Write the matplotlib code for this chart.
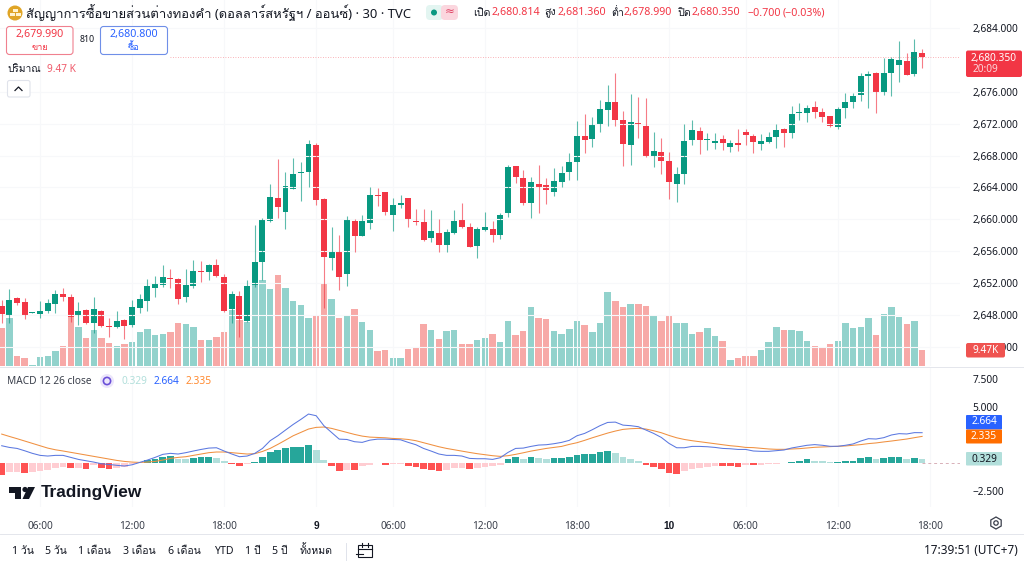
import numpy as np
import matplotlib
matplotlib.use("Agg")
import matplotlib.pyplot as plt
from matplotlib.patches import Rectangle, FancyBboxPatch, Circle, Polygon, RegularPolygon

# Loma supplies the Thai glyphs, Noto Sans the latin ones
plt.rcParams['font.family'] = ['Noto Sans', 'Loma', 'DejaVu Sans']

opens = [2649.12, 2647.91, 2650.16, 2649.62, 2648.30, 2648.07, 2648.49, 2649.41, 2650.67, 2650.29,
         2647.86, 2648.62, 2647.03, 2648.53, 2646.65, 2646.44, 2647.36, 2646.69, 2648.83, 2649.75,
         2651.38, 2651.80, 2652.63, 2652.55, 2650.25, 2651.63, 2653.51, 2653.43, 2654.22, 2652.72,
         2648.74, 2650.37, 2647.28, 2651.71, 2654.64, 2659.82, 2662.67, 2660.91, 2663.84, 2665.76,
         2665.93, 2669.32, 2662.50, 2655.14, 2655.94, 2653.09, 2659.78, 2657.90, 2659.53, 2663.05,
         2663.38, 2660.54, 2661.75, 2662.63, 2659.78, 2659.70, 2657.61, 2658.24, 2656.77, 2658.32,
         2659.91, 2659.07, 2656.65, 2658.61, 2658.82, 2658.07, 2660.75, 2666.64, 2665.14, 2662.00,
         2664.38, 2664.26, 2663.42, 2664.63, 2665.93, 2667.22, 2670.45, 2670.07, 2671.87, 2673.71,
         2674.75, 2672.45, 2669.27, 2672.12, 2671.70, 2667.85, 2668.48, 2667.35, 2664.38, 2665.72,
         2669.95, 2671.04, 2669.95, 2669.57, 2670.03, 2669.07, 2669.53, 2670.91, 2670.49, 2669.49,
         2669.70, 2670.28, 2671.29, 2670.87, 2673.29, 2673.38, 2674.05, 2673.42, 2672.92, 2671.54,
         2673.96, 2674.76, 2675.55, 2678.02, 2678.40, 2676.01, 2678.31, 2679.40, 2679.82, 2678.27,
         2680.814]
highs = [2649.87, 2651.21, 2650.20, 2650.08, 2648.40, 2649.79, 2649.96, 2651.13, 2651.34, 2650.62,
         2649.62, 2648.70, 2650.29, 2648.62, 2647.57, 2648.49, 2647.49, 2649.87, 2650.62, 2652.51,
         2652.88, 2654.26, 2653.72, 2652.67, 2653.72, 2654.89, 2654.76, 2654.35, 2654.97, 2653.13,
         2651.00, 2651.00, 2652.38, 2659.28, 2660.12, 2664.38, 2667.52, 2665.93, 2667.69, 2667.23,
         2669.95, 2669.53, 2662.71, 2659.07, 2658.03, 2660.41, 2659.99, 2660.54, 2664.00, 2663.88,
         2663.40, 2662.63, 2663.09, 2662.71, 2661.25, 2661.29, 2661.16, 2659.99, 2658.74, 2661.16,
         2662.04, 2659.57, 2659.07, 2660.87, 2659.82, 2660.83, 2666.81, 2666.73, 2666.18, 2665.26,
         2666.81, 2665.22, 2666.39, 2666.68, 2668.35, 2672.37, 2673.16, 2672.87, 2674.96, 2676.84,
         2678.39, 2673.58, 2675.67, 2675.38, 2675.21, 2670.95, 2670.15, 2668.40, 2666.60, 2671.95,
         2672.46, 2671.62, 2670.87, 2670.79, 2670.58, 2669.95, 2671.33, 2671.29, 2670.70, 2670.70,
         2671.00, 2671.91, 2671.50, 2674.22, 2674.63, 2674.34, 2674.88, 2673.92, 2673.00, 2674.05,
         2675.89, 2675.89, 2678.40, 2678.65, 2678.52, 2680.24, 2680.32, 2682.41, 2680.82, 2682.62,
         2681.36]
lows = [2646.94, 2646.94, 2649.24, 2647.45, 2648.25, 2647.57, 2648.28, 2648.28, 2649.79, 2647.15,
        2646.74, 2646.82, 2645.69, 2646.44, 2645.19, 2646.32, 2644.94, 2646.44, 2648.20, 2648.53,
        2650.29, 2651.54, 2651.42, 2649.37, 2649.66, 2651.34, 2652.13, 2652.38, 2652.72, 2648.41,
        2646.94, 2645.27, 2647.15, 2651.54, 2652.38, 2659.70, 2660.20, 2658.74, 2663.76, 2662.33,
        2664.09, 2661.79, 2648.91, 2653.64, 2651.13, 2651.67, 2655.94, 2657.85, 2658.74, 2661.66,
        2660.58, 2658.57, 2661.46, 2659.07, 2659.32, 2657.32, 2657.11, 2655.85, 2655.94, 2658.20,
        2658.95, 2656.48, 2655.10, 2658.53, 2657.11, 2657.48, 2660.24, 2664.51, 2661.83, 2660.16,
        2660.83, 2661.92, 2662.92, 2664.09, 2664.93, 2664.93, 2668.27, 2669.11, 2670.99, 2671.70,
        2671.70, 2666.68, 2666.81, 2670.15, 2667.85, 2666.51, 2665.68, 2662.50, 2662.21, 2664.42,
        2669.32, 2668.15, 2668.69, 2668.82, 2668.69, 2668.49, 2668.61, 2669.32, 2668.28, 2668.69,
        2669.53, 2668.90, 2669.11, 2670.16, 2672.46, 2672.25, 2672.67, 2672.25, 2671.62, 2671.33,
        2672.75, 2674.00, 2674.88, 2674.00, 2673.30, 2675.60, 2675.51, 2677.27, 2678.06, 2678.02,
        2678.99]
closes = [2648.07, 2649.87, 2649.50, 2647.99, 2648.35, 2648.53, 2649.45, 2650.67, 2650.29, 2647.78,
          2648.45, 2647.03, 2648.78, 2646.61, 2646.44, 2647.28, 2646.61, 2649.04, 2649.96, 2651.59,
          2651.88, 2652.80, 2652.51, 2650.00, 2651.75, 2653.55, 2653.43, 2654.31, 2652.88, 2648.53,
          2650.67, 2647.45, 2651.67, 2654.64, 2659.87, 2662.75, 2661.50, 2664.17, 2665.68, 2665.97,
          2669.40, 2662.42, 2655.31, 2655.85, 2652.80, 2659.87, 2657.90, 2659.78, 2663.05, 2662.96,
          2660.91, 2661.79, 2662.08, 2659.87, 2659.70, 2657.40, 2658.49, 2656.81, 2658.40, 2659.74,
          2659.03, 2656.56, 2658.82, 2658.99, 2658.07, 2660.54, 2666.52, 2665.26, 2662.00, 2664.72,
          2664.05, 2663.63, 2664.84, 2665.76, 2667.22, 2670.45, 2669.99, 2671.83, 2673.79, 2674.75,
          2672.45, 2669.44, 2672.20, 2671.99, 2667.94, 2668.52, 2667.31, 2664.72, 2665.64, 2669.82,
          2671.20, 2669.95, 2670.07, 2669.87, 2669.53, 2669.53, 2669.36, 2670.62, 2669.70, 2669.87,
          2670.37, 2671.25, 2670.79, 2673.25, 2673.42, 2674.00, 2673.42, 2672.88, 2671.71, 2673.84,
          2674.67, 2675.43, 2677.98, 2678.19, 2675.80, 2678.31, 2680.07, 2679.94, 2678.15, 2680.95,
          2680.35]
# volume in thousands
volumes = [22.0, 27.4, 5.7, 4.6, 0.6, 5.0, 5.7, 8.4, 11.5, 28.0,
           22.6, 16.1, 20.7, 16.1, 13.0, 11.5, 12.6, 13.6, 19.3, 21.3,
           18.0, 18.4, 19.3, 24.7, 23.9, 22.4, 14.9, 14.9, 16.5, 19.3,
           32.2, 26.4, 25.5, 46.4, 49.4, 44.3, 52.5, 44.8, 37.4, 34.9,
           27.6, 28.9, 47.7, 38.5, 27.6, 28.9, 32.6, 25.3, 20.7, 8.6,
           9.2, 4.4, 4.4, 9.8, 10.7, 24.3, 20.5, 15.5, 20.1, 20.9,
           12.6, 12.5, 14.9, 16.1, 18.2, 13.8, 25.9, 17.8, 20.1, 34.1,
           27.4, 27.0, 20.1, 18.2, 21.3, 25.9, 23.8, 19.3, 24.7, 42.5,
           37.2, 33.7, 35.4, 35.6, 34.7, 29.5, 25.7, 28.9, 24.5, 24.9,
           18.6, 19.5, 22.0, 17.2, 14.4, 3.6, 4.6, 5.7, 5.6, 9.0,
           13.6, 22.6, 20.5, 20.9, 20.3, 14.4, 11.3, 10.5, 12.6, 14.4,
           24.9, 22.0, 22.6, 27.6, 17.8, 29.9, 33.9, 28.4, 24.1, 25.9,
           9.47]
macd_line = [1.50, 1.35, 1.26, 1.05, 0.82, 0.64, 0.58, 0.64, 0.64, 0.46,
             0.28, 0.16, 0.04, -0.11, -0.17, -0.25, -0.31, -0.20, 0.01, 0.22,
             0.46, 0.73, 0.82, 0.76, 0.88, 1.03, 1.17, 1.29, 1.32, 1.03,
             0.76, 0.52, 0.58, 0.82, 1.26, 1.95, 2.39, 2.90, 3.40, 3.85,
             4.33, 4.18, 3.29, 2.69, 2.09, 2.06, 1.86, 1.80, 2.00, 2.09,
             2.09, 2.06, 2.03, 1.80, 1.59, 1.26, 1.02, 0.76, 0.64, 0.64,
             0.58, 0.37, 0.34, 0.34, 0.28, 0.43, 0.90, 1.26, 1.29, 1.44,
             1.56, 1.59, 1.68, 1.80, 1.98, 2.39, 2.60, 2.93, 3.29, 3.58,
             3.61, 3.34, 3.29, 3.20, 2.90, 2.60, 2.24, 1.71, 1.32, 1.32,
             1.44, 1.44, 1.41, 1.35, 1.26, 1.23, 1.17, 1.17, 1.03, 1.00,
             1.00, 1.06, 1.12, 1.30, 1.42, 1.54, 1.60, 1.54, 1.45, 1.45,
             1.54, 1.66, 1.92, 2.13, 2.10, 2.22, 2.46, 2.58, 2.55, 2.67,
             2.664]
signal_line = [2.54, 2.33, 2.13, 1.92, 1.71, 1.50, 1.29, 1.14, 1.03, 0.91,
               0.79, 0.67, 0.55, 0.43, 0.31, 0.19, 0.10, 0.04, 0.01, 0.04,
               0.10, 0.22, 0.37, 0.46, 0.52, 0.64, 0.76, 0.88, 0.94, 0.94,
               0.88, 0.82, 0.76, 0.79, 0.99, 1.26, 1.62, 2.00, 2.39, 2.69,
               2.99, 3.14, 3.17, 3.05, 2.87, 2.69, 2.51, 2.36, 2.27, 2.24,
               2.21, 2.15, 2.12, 2.06, 1.95, 1.77, 1.59, 1.41, 1.26, 1.14,
               1.02, 0.90, 0.79, 0.70, 0.61, 0.55, 0.61, 0.73, 0.87, 1.02,
               1.14, 1.26, 1.35, 1.44, 1.62, 1.77, 1.98, 2.21, 2.42, 2.63,
               2.81, 2.96, 3.02, 3.05, 2.99, 2.84, 2.66, 2.42, 2.21, 2.06,
               1.95, 1.86, 1.77, 1.68, 1.59, 1.50, 1.44, 1.35, 1.33, 1.27,
               1.21, 1.18, 1.18, 1.21, 1.24, 1.30, 1.36, 1.39, 1.42, 1.45,
               1.48, 1.54, 1.60, 1.69, 1.75, 1.84, 1.92, 2.01, 2.10, 2.22,
               2.335]
hist = [-1.07, -0.83, -0.82, -0.92, -0.83, -0.80, -0.65, -0.45, -0.39, -0.48,
        -0.45, -0.54, -0.24, -0.48, -0.57, -0.45, -0.39, -0.15, -0.02, 0.20,
        0.36, 0.48, 0.54, 0.36, 0.30, 0.42, 0.45, 0.46, 0.39, 0.10,
        -0.10, -0.32, -0.15, 0.03, 0.50, 0.92, 1.10, 1.31, 1.40, 1.41,
        1.55, 1.10, 0.27, -0.30, -0.77, -0.65, -0.71, -0.30, -0.18, -0.06,
        -0.18, -0.12, -0.09, -0.30, -0.36, -0.62, -0.65, -0.77, -0.68, -0.53,
        -0.50, -0.60, -0.45, -0.39, -0.30, -0.20, 0.30, 0.50, 0.36, 0.50,
        0.42, 0.36, 0.37, 0.38, 0.50, 0.71, 0.74, 0.77, 0.92, 1.01,
        0.86, 0.45, 0.36, 0.15, -0.18, -0.39, -0.60, -0.92, -0.98, -0.77,
        -0.54, -0.45, -0.36, -0.30, -0.33, -0.34, -0.39, -0.18, -0.24, -0.20,
        -0.15, -0.10, -0.08, 0.06, 0.10, 0.30, 0.15, 0.10, 0.02, 0.09,
        0.13, 0.17, 0.43, 0.50, 0.35, 0.42, 0.47, 0.53, 0.30, 0.42,
        0.329]

price_ticks = [2644, 2648, 2652, 2656, 2660, 2664, 2668, 2672, 2676, 2684]
macd_ticks = [7.5, 5.0, -2.5]
time_pos = [5, 17, 29, 41, 51, 63, 75, 87, 97, 109, 121]
time_labels = ['06:00', '12:00', '18:00', '9', '06:00', '12:00', '18:00', '10', '06:00', '12:00', '18:00']
range_labels = ['1 วัน', '5 วัน', '1 เดือน', '3 เดือน', '6 เดือน', 'YTD', '1 ปี', '5 ปี', 'ทั้งหมด']
range_x = [12, 45, 78, 123, 168, 214, 245, 272, 300]

UP = '#089981'
DOWN = '#f23645'
VOL_UP = '#92d2cc'
VOL_DOWN = '#f7a9a7'
TXT = '#131722'
GRID = '#f7f8fa'
W, H = 1024, 565
xlim = (-0.222, 124.94)

fig = plt.figure(figsize=(W / 100, H / 100), dpi=100, facecolor='white')

def pane(top, bottom):
    return fig.add_axes([0, 1 - bottom / H, 960 / W, (bottom - top) / H])

x = np.arange(len(closes))
o, c = np.array(opens), np.array(closes)
up = c >= o

# volume sits behind the candles, on its own scale
vol = pane(0, 366)
vol.set_xlim(*xlim)
vol.set_ylim(0, 210.3)
vol.bar(x, volumes, width=0.84, color=[VOL_UP if u else VOL_DOWN for u in up])
vol.axis('off')

ax = pane(0, 366)
ax.patch.set_alpha(0)
ax.set_xlim(*xlim)
ax.set_ylim(2641.59, 2687.51)
ax.vlines(x, lows, highs, colors=[UP if u else DOWN for u in up], linewidth=0.8, alpha=0.65)
ax.bar(x, np.maximum(np.abs(c - o), 0.12), bottom=np.minimum(o, c), width=0.78,
       color=[UP if u else DOWN for u in up])
# last price dotted line starts right of the legend
ax.axhline(closes[-1], xmin=170 / 960, color=DOWN, linewidth=0.6, linestyle=(0, (1, 2)), alpha=0.5)
ax.yaxis.tick_right()
ax.set_yticks(price_ticks)
ax.set_yticklabels([f'{t:,.3f}' for t in price_ticks])
ax.tick_params(axis='y', length=0, pad=9, labelsize=7.3, labelcolor=TXT)
ax.set_xticks([])
ax.grid(axis='y', color=GRID, linewidth=0.8)
for t in time_pos:
    ax.axvline(t, color=GRID, linewidth=0.8, zorder=0)
for s in ax.spines.values():
    s.set_visible(False)

mc = pane(367, 507)
mc.set_xlim(*xlim)
mc.set_ylim(-3.97, 8.53)
# solid when the histogram grows in its direction, pale when it shrinks
hcol = []
for i, h in enumerate(hist):
    prev = hist[i - 1] if i else h - 1 if h > 0 else h + 1
    if h >= 0:
        hcol.append('#26a69a' if h > prev else '#b2dfdb')
    else:
        hcol.append('#ff5252' if h < prev else '#ffcdd2')
mc.bar(x, hist, width=0.88, color=hcol)
mc.plot(x, signal_line, color='#f09040', linewidth=0.75)
mc.plot(x, macd_line, color='#5b78e0', linewidth=0.75)
mc.axhline(0, xmin=x[-1] / xlim[1], color='#d8b0b8', linewidth=0.7, linestyle=(0, (3, 3)))
mc.yaxis.tick_right()
mc.set_yticks(macd_ticks)
mc.set_yticklabels(['7.500', '5.000', '\u22122.500'])
mc.tick_params(axis='y', length=0, pad=9, labelsize=7.3, labelcolor=TXT)
mc.set_xticks(time_pos)
mc.set_xticklabels(time_labels)
mc.tick_params(axis='x', length=0, pad=10, labelsize=7.3, labelcolor='#3a3f4b')
for lab, t in zip(mc.get_xticklabels(), time_labels):
    if ':' not in t:
        lab.set_fontfamily('Liberation Sans')
        lab.set_fontweight('bold')
        lab.set_color(TXT)
mc.grid(axis='x', color=GRID, linewidth=0.8)
mc.set_axisbelow(True)
for s in mc.spines.values():
    s.set_visible(False)

# everything else is placed in screen pixels
ui = fig.add_axes([0, 0, 1, 1], zorder=10)
ui.set_xlim(0, W)
ui.set_ylim(H, 0)
ui.axis('off')

def txt(px, py, s, size=7.3, color=TXT, ha='left', **kw):
    ui.text(px, py, s, fontsize=size, color=color, ha=ha, va='center', **kw)

def box(x0, y0, x1, y1, fc, ec='none', r=2, lw=0.8):
    ui.add_patch(FancyBboxPatch((x0, y0), x1 - x0, y1 - y0, boxstyle=f'round,pad=0,rounding_size={r}',
                                fc=fc, ec=ec, lw=lw))

# separators
ui.plot([0, 1024], [366.5, 366.5], color='#e4e6ec', lw=0.7)
ui.plot([0, 1024], [534, 534], color='#e4e6ec', lw=0.7)

# header
ui.add_patch(Circle((15, 13), 7.5, fc='#e0a526', ec='none'))
ui.add_patch(Rectangle((12.5, 8.5), 5, 3, fc='#fff3cf'))
ui.add_patch(Rectangle((9.5, 13), 5, 3, fc='#fff3cf'))
ui.add_patch(Rectangle((15.5, 13), 5, 3, fc='#fff3cf'))
txt(26, 13, 'สัญญาการซื้อขายส่วนต่างทองคำ (ดอลลาร์สหรัฐฯ / ออนซ์) · 30 · TVC', size=9.4)
box(426, 5, 443, 20, '#e3f5f1', r=4)
box(441, 5, 458, 20, '#fbd6de', r=4)
ui.add_patch(Circle((434, 12.5), 3, fc='#089981', ec='none'))
txt(449.5, 12.5, '≈', size=8.5, color='#e04565', ha='center')
for px, s, col in [(473, 'เปิด', TXT), (491, '2,680.814', DOWN), (544, 'สูง', TXT), (558, '2,681.360', DOWN),
                   (611, 'ต่ำ', TXT), (624, '2,678.990', DOWN), (677, 'ปิด', TXT), (692, '2,680.350', DOWN),
                   (747, '\u22120.700', DOWN), (783, '(\u22120.03%)', DOWN)]:
    txt(px, 13, s, size=7.7, color=col)

# sell / buy boxes
box(6.5, 26.5, 73, 54.5, 'white', ec='#f0808f', r=3)
box(100.5, 26.5, 167.5, 54.5, 'white', ec='#6f8fe8', r=3)
txt(39.5, 35, '2,679.990', size=7.7, color=DOWN, ha='center', fontweight='medium')
txt(39.5, 47, 'ขาย', size=6.6, color=DOWN, ha='center')
txt(134, 35, '2,680.800', size=7.7, color='#2962ff', ha='center', fontweight='medium')
txt(134, 47, 'ซื้อ', size=6.6, color='#2962ff', ha='center')
txt(87, 40, '810', size=6.3, ha='center')
txt(7, 69, 'ปริมาณ', size=7.3)
txt(47, 69, '9.47 K', size=7.3, color='#ef5a6a')
box(7.5, 80.5, 30, 97, 'white', ec='#e0e3eb', r=2)
ui.plot([15, 18.5, 22], [90.5, 87, 90.5], color=TXT, lw=0.9)

# right scale labels
box(966, 50.5, 1022, 77, '#f23645', r=2)
txt(994, 58.5, '2,680.350', size=7.3, color='white', ha='center')
txt(972.5, 70, '20:09', size=7.3, color='#fcd5d9')
box(966, 343, 1005, 357.5, '#ef5350', r=2)
txt(985.5, 350.5, '9.47K', size=7.3, color='white', ha='center', fontweight='medium')
box(966, 415, 1002, 429.5, '#2962ff', r=1)
txt(984, 422, '2.664', size=7.3, color='white', ha='center')
box(966, 429.5, 1002, 443.5, '#ff6d00', r=1)
txt(984, 436.5, '2.335', size=7.3, color='white', ha='center')
box(966, 452, 1002, 465.5, '#b2dfdb', r=1)
txt(984, 459, '0.329', size=7.3, ha='center')

# macd legend
txt(7, 381, 'MACD 12 26 close', size=7.3, color='#3a3f4b')
ui.add_patch(Circle((107, 381), 7, fc='#ece6fb', ec='none'))
ui.add_patch(Circle((107, 381), 3.6, fc='none', ec='#6a4fd8', lw=1.2))
txt(121, 381, '0.329', size=7.3, color='#b2dfdb')
txt(154, 381, '2.664', size=7.3, color='#2962ff')
txt(186, 381, '2.335', size=7.3, color='#ff8a30')

# watermark
ui.add_patch(Polygon([(9, 487), (21, 487), (21, 499), (15, 499), (15, 492.5), (9, 492.5)], fc=TXT, ec='none'))
ui.add_patch(Circle((25, 489.5), 2.6, fc=TXT, ec='none'))
ui.add_patch(Polygon([(28, 487), (35, 487), (29, 499), (22.5, 499)], fc=TXT, ec='none'))
txt(41, 492.5, 'TradingView', size=12.4, family='Liberation Sans', fontweight='bold')

# range bar
for px, s in zip(range_x, range_labels):
    txt(px, 551, s, size=7.6)
ui.plot([346, 346], [543, 560], color='#e0e3eb', lw=0.7)
ui.add_patch(Rectangle((358, 545), 14, 12, fc='none', ec=TXT, lw=0.8))
ui.plot([358, 372], [549, 549], color=TXT, lw=0.8)
ui.plot([362, 362], [543, 547], color=TXT, lw=0.8)
ui.plot([368, 368], [543, 547], color=TXT, lw=0.8)
ui.plot([356, 363], [554, 554], color=TXT, lw=0.8)
txt(1018, 551, '17:39:51 (UTC+7)', size=8.5, ha='right')

# settings icon
ui.add_patch(RegularPolygon((996, 523), 6, radius=6, fc='none', ec='#3a3f4b', lw=0.9))
ui.add_patch(Circle((996, 523), 2.2, fc='none', ec='#3a3f4b', lw=0.9))

fig.savefig('out.png', dpi=100)
